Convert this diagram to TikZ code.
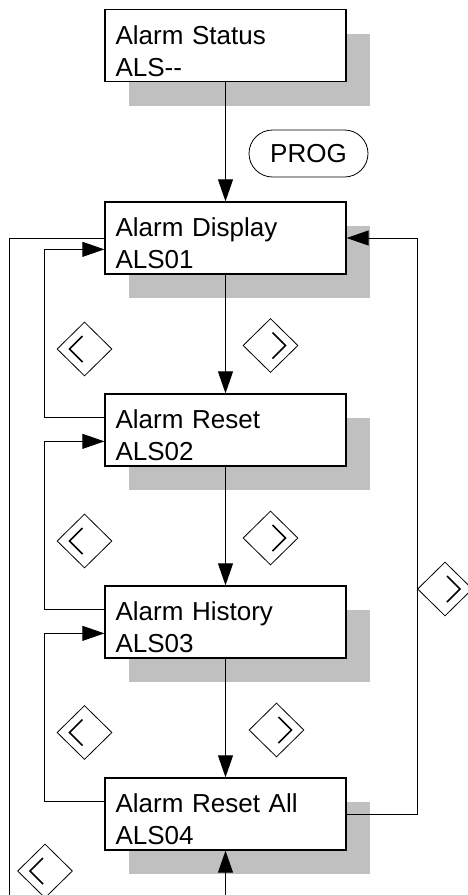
\documentclass[tikz,border=0pt]{standalone}
\usepackage{fontspec}
\setmainfont{Liberation Sans}
\usetikzlibrary{arrows.meta,shapes.geometric,shadows}
\definecolor{menuink}{HTML}{000000}
\definecolor{menushade}{HTML}{C0C0C0}
\newcommand{\menufont}{\fontsize{26}{32}\selectfont}

\begin{document}
\begin{tikzpicture}[
  x=1pt,
  y=-1pt,
  every node/.style={menuink},
  panel/.style={draw=menuink, fill=white, line width=1.3pt, inner sep=0pt,
                minimum width=241pt, minimum height=72pt,
                drop shadow={shadow xshift=24pt, shadow yshift=-24pt,
                             fill=menushade, opacity=1}},
  caption/.style={font=\menufont, anchor=base west, align=left,
                  text width=225pt, inner sep=0pt},
  flow/.style={menuink, line width=1pt, -{Triangle[length=22pt, width=15pt]}},
  link/.style={menuink, line width=1pt},
  key/.style={diamond, draw=menuink, line width=0.8pt, inner sep=0pt,
              minimum width=55pt, minimum height=54pt},
  keyleft/.style={key, path picture={
      \draw[line width=1.5pt]
        ([shift={(-2,-13)}]path picture bounding box.center)
        -- ([shift={(-15,0)}]path picture bounding box.center)
        -- ([shift={(-2,13)}]path picture bounding box.center);}},
  keyright/.style={key, path picture={
      \draw[line width=1.5pt]
        ([shift={(2,-13)}]path picture bounding box.center)
        -- ([shift={(15,0)}]path picture bounding box.center)
        -- ([shift={(2,13)}]path picture bounding box.center);}},
  progkey/.style={draw=menuink, line width=0.8pt, rounded corners=23.5pt,
                  inner sep=0pt, minimum width=119pt, minimum height=47pt,
                  font=\menufont}
]
  % ---- page frame ----
  \useasboundingbox (0,0) rectangle (468,895);

  % ---- menu panels ----
  \node[panel] (als00) at (225.5,45.5) {};
  \node[panel] (als01) at (225.5,238) {};
  \node[panel] (als02) at (225.5,430) {};
  \node[panel] (als03) at (225.5,622) {};
  \node[panel] (als04) at (225.5,814) {};

  \node[caption] (als00txt) at ([shift={(11,35.5)}]als00.north west) {Alarm Status\\ALS-{}-};
  \node[caption] (als01txt) at ([shift={(11,35)}]als01.north west) {Alarm Display\\ALS01};
  \node[caption] (als02txt) at ([shift={(11,35)}]als02.north west) {Alarm Reset\\ALS02};
  \node[caption] (als03txt) at ([shift={(11,35)}]als03.north west) {Alarm History\\ALS03};
  \node[caption] (als04txt) at ([shift={(11,35)}]als04.north west) {Alarm Reset All\\ALS04};

  % ---- keys ----
  \node[progkey] (prog) at (308.5,153.5) {PROG};
  \node[keyleft]  (up1)   at (84.5,349)   {};
  \node[keyright] (down1) at (270.5,345.5) {};
  \node[keyleft]  (up2)   at (84.5,541)   {};
  \node[keyright] (down2) at (270.5,538)  {};
  \node[keyleft]  (up3)   at (84.5,732.5) {};
  \node[keyright] (down3) at (276.5,730)  {};
  \node[keyright] (wrap)  at (445,589)    {};
  \node[keyleft]  (home)  at (45,871)     {};

  % ---- forward steps ----
  \draw[flow] (als00) -- (als01);
  \draw[flow] (als01) -- (als02);
  \draw[flow] (als02) -- (als03);
  \draw[flow] (als03) -- (als04);

  % ---- backward steps ----
  \draw[flow] ([yshift=-24pt]als02.north west) -- ++(-60,0) |- ([yshift=-48pt]als01.north west);
  \draw[flow] ([yshift=-24pt]als03.north west) -- ++(-60,0) |- ([yshift=-48pt]als02.north west);
  \draw[flow] ([yshift=-24pt]als04.north west) -- ++(-60,0) |- ([yshift=-48pt]als03.north west);

  % ---- wrap round from the last panel ----
  \draw[flow] (als04.east) -- ++(71,0) |- (als01.east);

  % ---- lines leaving the page ----
  \coordinate (homefoot) at (9,895);
  \coordinate (resetfoot) at (225.5,895);
  \draw[link] (homefoot) |- (als01.west);
  \draw[flow] (resetfoot) -- (als04.south);
\end{tikzpicture}
\end{document}
